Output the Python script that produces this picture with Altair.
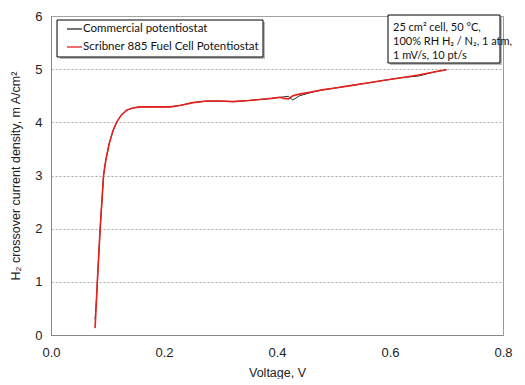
import altair as alt
import pandas as pd

voltage = [0.078, 0.080, 0.082, 0.084, 0.087, 0.090, 0.093, 0.097, 0.103, 0.110,
           0.116, 0.124, 0.134, 0.145, 0.157, 0.180, 0.211, 0.230, 0.251, 0.276,
           0.300, 0.322, 0.350, 0.370, 0.390, 0.405, 0.412, 0.420, 0.428, 0.440,
           0.460, 0.480, 0.500, 0.530, 0.560, 0.590, 0.620, 0.650, 0.680, 0.700]
current_scribner = [0.13, 0.55, 1.00, 1.40, 2.00, 2.50, 3.00, 3.29, 3.60, 3.85,
                    4.00, 4.13, 4.23, 4.27, 4.29, 4.29, 4.29, 4.32, 4.37, 4.40,
                    4.40, 4.39, 4.41, 4.43, 4.45, 4.47, 4.45, 4.44, 4.50, 4.53,
                    4.57, 4.61, 4.64, 4.69, 4.74, 4.79, 4.84, 4.89, 4.95, 4.99]
current_commercial = [0.30, 0.60, 1.00, 1.40, 2.00, 2.50, 3.00, 3.29, 3.60, 3.85,
                      4.00, 4.13, 4.23, 4.27, 4.29, 4.29, 4.29, 4.32, 4.37, 4.40,
                      4.40, 4.39, 4.41, 4.43, 4.45, 4.47, 4.48, 4.49, 4.42, 4.50,
                      4.56, 4.61, 4.64, 4.69, 4.74, 4.79, 4.84, 4.87, 4.95, 4.99]
series_names = ["Commercial potentiostat", "Scribner 885 Fuel Cell Potentiostat"]
series_colors = ["#2b2b2b", "#e8201c"]
note_lines = ["25 cm² cell, 50 °C,", "100% RH H₂ / N₂, 1 atm,", "1 mV/s, 10 pt/s"]

df_c = pd.DataFrame({"V": voltage, "I": current_commercial, "s": series_names[0]})
df_s = pd.DataFrame({"V": voltage, "I": current_scribner, "s": series_names[1]})

W, H = 452, 319
FONT = "Liberation Sans"
TFONT = "Lato"

x = alt.X("V:Q", scale=alt.Scale(domain=[0, 0.8], nice=False),
          axis=alt.Axis(title="Voltage, V", values=[0, 0.2, 0.4, 0.6, 0.8], format=".1f",
                        grid=False, ticks=False, labelPadding=11, titlePadding=7,
                        labelFlush=False, titleFontWeight="normal",
                        labelFont=FONT, labelFontSize=13, labelColor="#222222",
                        titleFont=FONT, titleFontSize=12.5, titleColor="#222222",
                        domainColor="#888888"))
y = alt.Y("I:Q", scale=alt.Scale(domain=[0, 6], nice=False),
          axis=alt.Axis(title="H₂ crossover current density, m A/cm²", values=[0, 1, 2, 3, 4, 5, 6],
                        grid=True, gridDash=[2, 2], gridColor="#aaaaaa", ticks=False,
                        labelPadding=9, titlePadding=12, labelFlush=False,
                        titleFontWeight="normal",
                        labelFont=FONT, labelFontSize=13, labelColor="#222222",
                        titleFont=FONT, titleFontSize=12.5, titleColor="#222222",
                        domainColor="#888888"))

line_c = alt.Chart(df_c).mark_line(color=series_colors[0], strokeWidth=1).encode(x=x, y=y)
line_s = alt.Chart(df_s).mark_line(color=series_colors[1], strokeWidth=1.6).encode(x=x, y=y)

one = pd.DataFrame({"a": [0]})
# Legend box (manual, with shadow)
leg_shadow = alt.Chart(one).mark_rect(fill="#bbbbbb").encode(
    x=alt.value(9), x2=alt.value(214), y=alt.value(6), y2=alt.value(43))
leg_box = alt.Chart(one).mark_rect(fill="white", stroke="black", strokeWidth=1).encode(
    x=alt.value(6), x2=alt.value(212), y=alt.value(4), y2=alt.value(41))
leg_df = pd.DataFrame({"name": series_names, "color": series_colors, "yy": [13, 31]})
leg_lines = alt.Chart(leg_df).mark_rule(strokeWidth=1.3).encode(
    x=alt.value(16), x2=alt.value(31), y=alt.Y("yy:Q", scale=None),
    color=alt.Color("color:N", scale=None))
leg_text = alt.Chart(leg_df).mark_text(align="left", baseline="middle", font=TFONT, fontSize=11.5,
                                       color="#111111").encode(
    x=alt.value(32), y=alt.Y("yy:Q", scale=None), text="name:N")

# Note box
note_shadow = alt.Chart(one).mark_rect(fill="#bbbbbb").encode(
    x=alt.value(339), x2=alt.value(451), y=alt.value(1), y2=alt.value(49))
note_box = alt.Chart(one).mark_rect(fill="white", stroke="black", strokeWidth=1).encode(
    x=alt.value(337), x2=alt.value(449), y=alt.value(-1), y2=alt.value(47))
note_df = pd.DataFrame({"t": note_lines, "yy": [12, 26, 40]})
note_text = alt.Chart(note_df).mark_text(align="left", baseline="middle", font=TFONT, fontSize=11,
                                         color="#111111").encode(
    x=alt.value(342), y=alt.Y("yy:Q", scale=None), text="t:N")

chart = alt.layer(line_c, line_s, leg_shadow, leg_box, leg_lines, leg_text,
                  note_shadow, note_box, note_text).properties(
    width=W, height=H, autosize=alt.AutoSizeParams(type="none"),
    padding={"left": 43, "top": 8, "right": 14, "bottom": 44},
    background="white"
).configure_view(stroke="#999999", strokeWidth=1)

chart.save("out.html", embed_options={"renderer": "svg", "actions": False})
